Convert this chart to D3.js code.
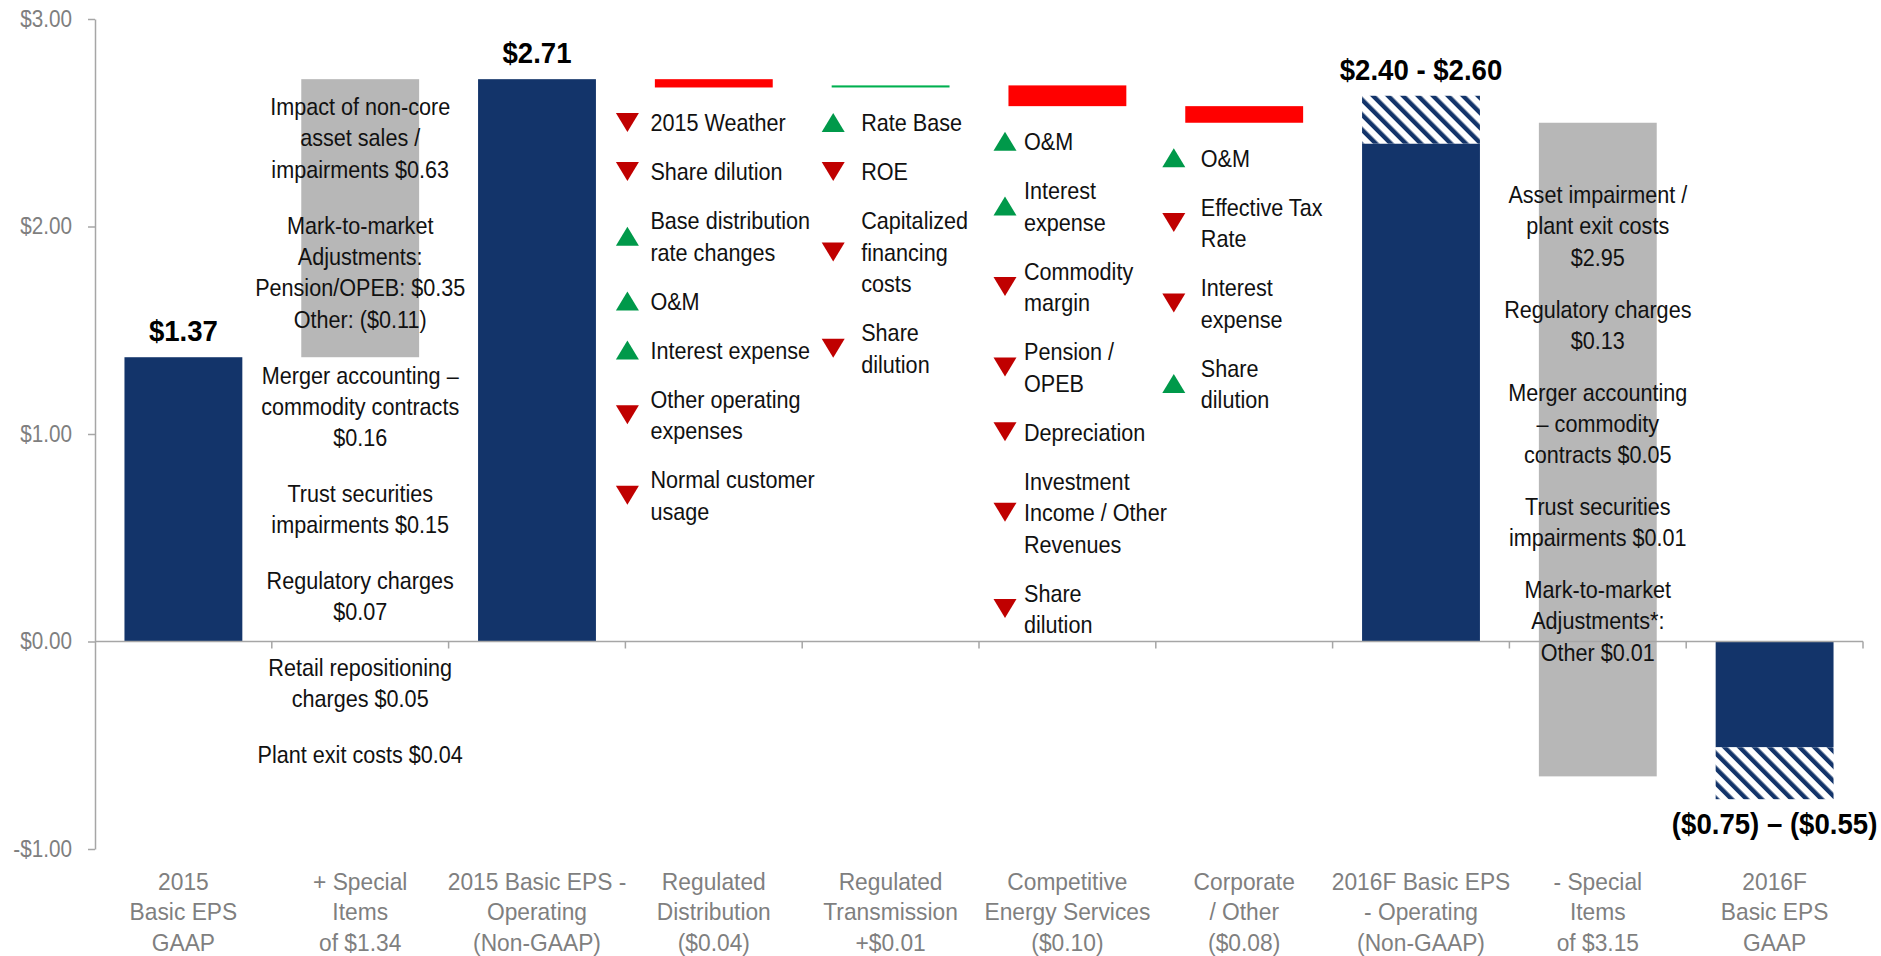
<!DOCTYPE html>
<html lang="en">
<head>
  <meta charset="UTF-8">
  <title>Basic EPS walk 2015 to 2016F</title>
  <script src="https://d3js.org/d3.v7.min.js"></script>
  <style>
    body,
    html {
      margin: 0;
      padding: 0;
      overflow: hidden;
      background: #fff;
    }

    svg text {
      font-family: "Liberation Sans", Arial, sans-serif;
    }
  </style>
</head>

<body>
  <script>
    // ---- data ----

    // category labels, one list of lines per column
    const categories = [
      ["2015", "Basic EPS", "GAAP"],
      ["+ Special", "Items", "of $1.34"],
      ["2015 Basic EPS -", "Operating", "(Non-GAAP)"],
      ["Regulated", "Distribution", "($0.04)"],
      ["Regulated", "Transmission", "+$0.01"],
      ["Competitive", "Energy Services", "($0.10)"],
      ["Corporate", "/ Other", "($0.08)"],
      ["2016F Basic EPS", "- Operating", "(Non-GAAP)"],
      ["- Special", "Items", "of $3.15"],
      ["2016F", "Basic EPS", "GAAP"]
    ];

    // total: bar from zero, special/change: step from running total, range: solid + hatched part
    const kinds = ["total", "special", "total", "change", "change", "change", "change", "range", "special", "range"];
    const amounts = [1.37, 1.34, 2.71, -0.04, 0.01, -0.10, -0.08, 2.40, -3.15, -0.51];
    const hatchTo = [null, null, null, null, null, null, null, 2.63, null, -0.76];
    const valueLabels = ["$1.37", "", "$2.71", "", "", "", "", "$2.40 - $2.60", "", "($0.75) – ($0.55)"];

    const yTicks = [-1, 0, 1, 2, 3];

    const specialItems2015 = [
      ["Impact of non-core", "asset sales /", "impairments $0.63"],
      ["Mark-to-market", "Adjustments:", "Pension/OPEB: $0.35", "Other: ($0.11)"],
      ["Merger accounting –", "commodity contracts", "$0.16"],
      ["Trust securities", "impairments $0.15"],
      ["Regulatory charges", "$0.07"],
      ["Retail repositioning", "charges $0.05"],
      ["Plant exit costs $0.04"]
    ];
    const specialItems2016 = [
      ["Asset impairment /", "plant exit costs", "$2.95"],
      ["Regulatory charges", "$0.13"],
      ["Merger accounting", "– commodity", "contracts $0.05"],
      ["Trust securities", "impairments $0.01"],
      ["Mark-to-market", "Adjustments*:", "Other $0.01"]
    ];

    // drivers: 1 = up arrow (green), -1 = down arrow (red)
    const distributionDrivers = [
      [-1, ["2015 Weather"]],
      [-1, ["Share dilution"]],
      [1, ["Base distribution", "rate changes"]],
      [1, ["O&M"]],
      [1, ["Interest expense"]],
      [-1, ["Other operating", "expenses"]],
      [-1, ["Normal customer", "usage"]]
    ];
    const transmissionDrivers = [
      [1, ["Rate Base"]],
      [-1, ["ROE"]],
      [-1, ["Capitalized", "financing", "costs"]],
      [-1, ["Share", "dilution"]]
    ];
    const competitiveDrivers = [
      [1, ["O&M"]],
      [1, ["Interest", "expense"]],
      [-1, ["Commodity", "margin"]],
      [-1, ["Pension /", "OPEB"]],
      [-1, ["Depreciation"]],
      [-1, ["Investment", "Income / Other", "Revenues"]],
      [-1, ["Share", "dilution"]]
    ];
    const corporateDrivers = [
      [1, ["O&M"]],
      [-1, ["Effective Tax", "Rate"]],
      [-1, ["Interest", "expense"]],
      [1, ["Share", "dilution"]]
    ];

    // ---- layout ----
    const width = 1881, height = 956;
    const navy = "#13346a", gray = "#b7b7b7", red = "#ff0000", green = "#00b050";
    const arrowRed = "#c00000", arrowGreen = "#00994a";
    const axisColor = "#a6a6a6", labelGray = "#7f7f7f", ink = "#111";
    const lineH = 31.5;
    const narrow = 0.9; // the source font is a condensed face

    const svg = d3.select("body")
      .append("svg")
      .attr("width", width)
      .attr("height", height);

    const defs = svg.append("defs");
    const hatch = defs.append("pattern")
      .attr("id", "hatch")
      .attr("patternUnits", "userSpaceOnUse")
      .attr("width", 10.6)
      .attr("height", 10.6)
      .attr("patternTransform", "rotate(-45)");
    hatch.append("rect").attr("width", 10.6).attr("height", 10.6).attr("fill", "#fff");
    hatch.append("rect").attr("width", 4.4).attr("height", 10.6).attr("fill", navy);

    const x = d3.scaleBand()
      .domain(d3.range(categories.length))
      .range([95, 1863])
      .paddingInner(1 / 3)
      .paddingOuter(1 / 6);

    const y = d3.scaleLinear()
      .domain([-1, 3])
      .range([849, 19]);

    const bandStart = i => x(i) - (x.step() - x.bandwidth()) / 2;
    const mid = i => x(i) + x.bandwidth() / 2;

    // multi-line text squeezed horizontally to mimic the condensed font
    function addText(parent, tx, ty, lines, opts) {
      const o = Object.assign({ size: 24, fill: ink, anchor: "start", sx: narrow, weight: "normal", lh: lineH }, opts);
      const holder = parent.append("g")
        .attr("transform", `translate(${tx},${ty}) scale(${o.sx},1)`);
      const t = holder.append("text")
        .attr("text-anchor", o.anchor)
        .attr("font-size", o.size + "px")
        .attr("font-weight", o.weight)
        .attr("fill", o.fill);
      lines.forEach((s, j) => {
        t.append("tspan").attr("x", 0).attr("y", j * o.lh).text(s);
      });
      return holder;
    }

    // running total for the waterfall
    let running = 0;
    const bars = kinds.map((k, i) => {
      let v0, v1;
      if (k === "total" || k === "range") {
        v0 = 0;
        v1 = amounts[i];
        if (k === "total") running = amounts[i];
      } else {
        v0 = running;
        v1 = running + amounts[i];
        running = v1;
      }
      let fill = navy;
      if (k === "special") fill = gray;
      if (k === "change") fill = amounts[i] < 0 ? red : green;
      return { i, k, v0, v1, fill, hatch: hatchTo[i] };
    });

    const g = svg.append("g");

    // bars
    g.selectAll("rect.bar")
      .data(bars)
      .join("rect")
      .attr("class", "bar")
      .attr("x", d => x(d.i))
      .attr("width", x.bandwidth())
      .attr("y", d => y(Math.max(d.v0, d.v1)))
      .attr("height", d => Math.abs(y(d.v0) - y(d.v1)))
      .attr("fill", d => d.fill);

    // hatched part of the guidance ranges
    g.selectAll("rect.hatch")
      .data(bars.filter(d => d.hatch != null))
      .join("rect")
      .attr("class", "hatch")
      .attr("x", d => x(d.i))
      .attr("width", x.bandwidth())
      .attr("y", d => y(Math.max(d.v1, d.hatch)))
      .attr("height", d => Math.abs(y(d.v1) - y(d.hatch)))
      .attr("fill", "url(#hatch)");

    // value labels
    bars.forEach(d => {
      if (!valueLabels[d.i]) return;
      const top = Math.max(d.v1, d.hatch == null ? d.v1 : d.hatch);
      const bottom = Math.min(d.v1, d.hatch == null ? d.v1 : d.hatch);
      const ty = top > 0 ? y(top) - 16 : y(bottom) + 35;
      addText(g, mid(d.i), ty, [valueLabels[d.i]], {
        size: 30, weight: "bold", fill: "#000", anchor: "middle", sx: 0.92
      });
    });

    // y axis
    const yAxis = d3.axisLeft(y)
      .tickValues(yTicks)
      .tickSize(7)
      .tickSizeOuter(0)
      .tickPadding(16)
      .tickFormat(d => (d < 0 ? "-$" : "$") + Math.abs(d).toFixed(2));

    const ya = svg.append("g")
      .attr("transform", "translate(95,0)")
      .call(yAxis);
    ya.select(".domain").attr("stroke", axisColor).attr("stroke-width", 1.5);
    ya.selectAll(".tick line").attr("stroke", axisColor).attr("stroke-width", 1.5);
    ya.selectAll(".tick text")
      .attr("fill", labelGray)
      .attr("font-size", "23px")
      .attr("font-family", "'Liberation Sans', Arial, sans-serif")
      .attr("x", -23 / narrow)
      .attr("transform", `scale(${narrow},1)`);

    // x axis at zero with ticks between categories
    svg.append("line")
      .attr("x1", 95).attr("x2", 1863)
      .attr("y1", y(0)).attr("y2", y(0))
      .attr("stroke", axisColor)
      .attr("stroke-width", 1.5);

    svg.selectAll("line.xtick")
      .data(d3.range(1, categories.length + 1))
      .join("line")
      .attr("class", "xtick")
      .attr("x1", k => 95 + k * x.step())
      .attr("x2", k => 95 + k * x.step())
      .attr("y1", y(0))
      .attr("y2", y(0) + 7)
      .attr("stroke", axisColor)
      .attr("stroke-width", 1.5);

    // category labels
    categories.forEach((lines, i) => {
      addText(svg, mid(i), 890, lines, { fill: labelGray, anchor: "middle", sx: 0.95, lh: 30.5 });
    });

    // notes on the special items bars
    function drawNotes(groups, col, startY, gap) {
      let b = startY;
      groups.forEach(lines => {
        addText(g, mid(col), b, lines, { anchor: "middle" });
        b += lines.length * lineH + gap;
      });
    }

    drawNotes(specialItems2015, 1, 115, 24);
    drawNotes(specialItems2016, 8, 203, 20);

    // driver lists with arrows under each step bar
    const upArrow = "M0,-9.5L11.5,9.5L-11.5,9.5Z";
    const downArrow = "M-11.5,-9.5L11.5,-9.5L0,9.5Z";

    function drawDrivers(list, col, arrowDx, textDx) {
      const bar = bars[col];
      let b = y(Math.min(bar.v0, bar.v1)) + 44;
      const x0 = bandStart(col);
      list.forEach(([dir, lines]) => {
        const cy = b - 9 + (lines.length - 1) * lineH / 2;
        g.append("path")
          .attr("d", dir > 0 ? upArrow : downArrow)
          .attr("transform", `translate(${x0 + arrowDx},${cy})`)
          .attr("fill", dir > 0 ? arrowGreen : arrowRed);
        addText(g, x0 + textDx, b, lines, {});
        b += lines.length * lineH + 17.5;
      });
    }

    drawDrivers(distributionDrivers, 3, 2, 25);
    drawDrivers(transmissionDrivers, 4, 31, 59);
    drawDrivers(competitiveDrivers, 5, 26, 45);
    drawDrivers(corporateDrivers, 6, 18, 45);
  </script>
</body>

</html>
